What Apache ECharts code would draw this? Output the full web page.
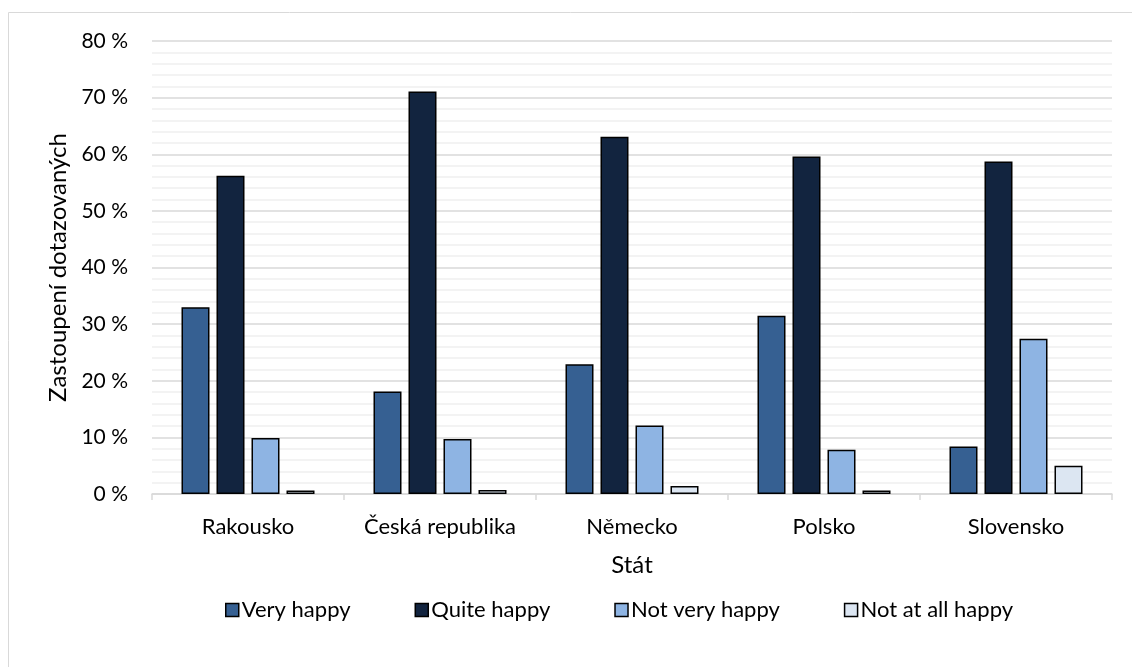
<!DOCTYPE html>
<html lang="cs">
<head>
    <meta charset="UTF-8">
    <title>Štěstí podle států</title>
    <script src="https://cdn.jsdelivr.net/npm/echarts@6/dist/echarts.min.js"></script>
</head>
<body style="margin: 0;">
    <div id="chart" style="width: 1132px; height: 667px;"></div>
    <script>
        // kategorie a hodnoty (v %)
        const states = ['Rakousko', 'Česká republika', 'Německo', 'Polsko', 'Slovensko'];
        const seriesNames = ['Very happy', 'Quite happy', 'Not very happy', 'Not at all happy'];
        const veryHappy = [33.0, 18.1, 22.9, 31.5, 8.4];
        const quiteHappy = [56.2, 71.1, 63.1, 59.6, 58.7];
        const notVeryHappy = [9.9, 9.7, 12.1, 7.8, 27.4];
        const notAtAllHappy = [0.6, 0.7, 1.4, 0.6, 5.0];
        const colors = ['#366092', '#12243f', '#8eb4e3', '#dce6f2'];

        const font = 'Lato, "Open Sans", sans-serif';
        const chart = echarts.init(document.getElementById('chart'));

        const values = [veryHappy, quiteHappy, notVeryHappy, notAtAllHappy];
        const series = seriesNames.map((name, i) => ({
            name: name,
            type: 'bar',
            data: values[i],
            barWidth: 28,
            barGap: '25%',
            itemStyle: {
                color: colors[i],
                borderColor: '#000',
                borderWidth: 1.5
            }
        }));

        chart.setOption({
            animation: false,
            textStyle: { fontFamily: font },
            graphic: [{
                type: 'rect',
                shape: { x: 8.5, y: 12.5, width: 1130, height: 700 },
                style: { fill: 'none', stroke: '#d9d9d9', lineWidth: 1 },
                silent: true
            }],
            grid: { left: 152, right: 20, top: 41, bottom: 173 },
            legend: {
                left: 220,
                top: 594,
                itemWidth: 13,
                itemHeight: 13,
                itemGap: 64,
                icon: 'rect',
                textStyle: { fontSize: 22, color: '#000', fontFamily: font, padding: [0, 0, 0, -2] },
                itemStyle: { borderColor: '#000', borderWidth: 1.5 },
                data: seriesNames
            },
            xAxis: {
                type: 'category',
                data: states,
                name: 'Stát',
                nameLocation: 'middle',
                nameGap: 59,
                nameTextStyle: { fontSize: 24, color: '#000' },
                axisLine: { lineStyle: { color: '#d9d9d9', width: 1.5 } },
                axisTick: { show: true, length: 6, lineStyle: { color: '#d9d9d9', width: 1.5 } },
                axisLabel: { fontSize: 22, color: '#000', margin: 22, interval: 0, hideOverlap: false }
            },
            yAxis: {
                type: 'value',
                min: 0,
                max: 80,
                interval: 10,
                name: 'Zastoupení dotazovaných',
                nameLocation: 'middle',
                nameGap: 80,
                nameTextStyle: { fontSize: 24, color: '#000' },
                axisLabel: { fontSize: 21, color: '#000', margin: 24, formatter: '{value} %' },
                splitLine: { lineStyle: { color: '#d9d9d9', width: 1.5 } },
                minorTick: { show: false, splitNumber: 5 },
                minorSplitLine: { show: true, lineStyle: { color: '#f0f0f0', width: 1.5 } }
            },
            series: series
        });
    </script>
</body>
</html>
